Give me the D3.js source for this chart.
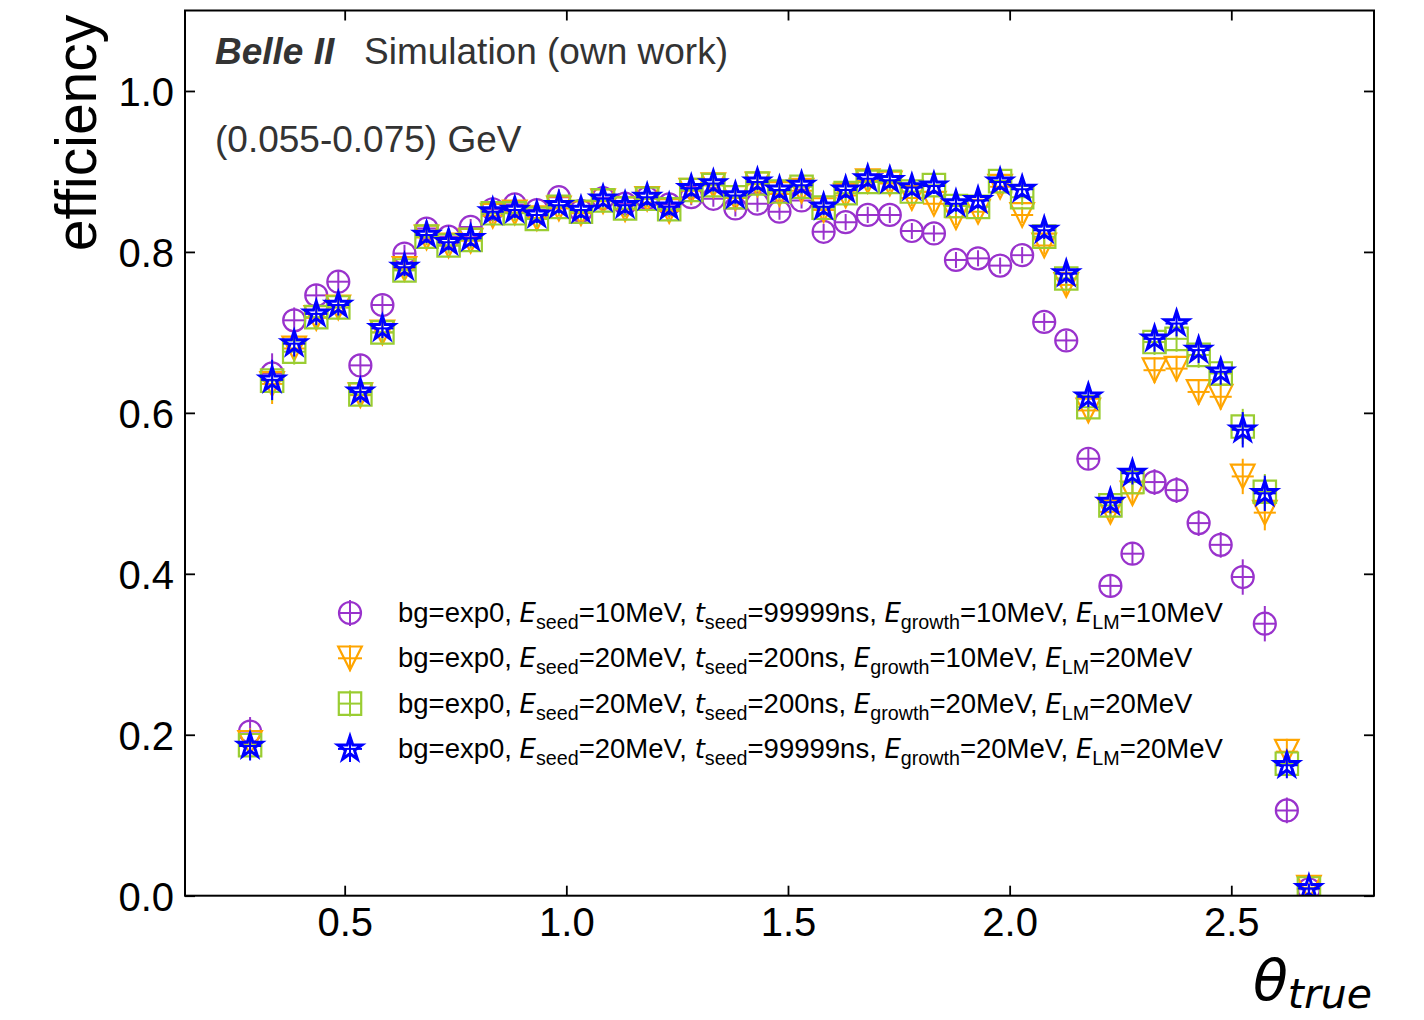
<!DOCTYPE html>
<html>
<head>
<meta charset="utf-8">
<script src="https://cdn.jsdelivr.net/npm/d3@7"></script>
<style>
  html, body { margin: 0; padding: 0; background: #fff; }
  svg { display: block; }
  text { font-family: "Liberation Sans", Arial, Helvetica, sans-serif; }
</style>
</head>
<body>
<svg id="chart" width="1424" height="1020"></svg>
<script>
// ---------------- data ----------------
const thetaBins = [0.2866, 0.3363, 0.3861, 0.4359, 0.4856, 0.5354, 0.5851, 0.6349, 0.6847, 0.7344,
  0.7842, 0.8340, 0.8837, 0.9335, 0.9832, 1.0330, 1.0828, 1.1325, 1.1823, 1.2320,
  1.2818, 1.3316, 1.3813, 1.4311, 1.4808, 1.5306, 1.5804, 1.6301, 1.6799, 1.7297,
  1.7794, 1.8292, 1.8789, 1.9287, 1.9785, 2.0282, 2.0780, 2.1277, 2.1775, 2.2273,
  2.2770, 2.3268, 2.3765, 2.4263, 2.4761, 2.5258, 2.5756, 2.6253, 2.6751];
const binHalfWidth = 0.0249;

const effSeed10 = [0.204, 0.649, 0.715, 0.746, 0.763, 0.659, 0.734, 0.798, 0.829, 0.819,
  0.831, 0.853, 0.859, 0.852, 0.868, 0.851, 0.867, 0.860, 0.867, 0.859,
  0.868, 0.866, 0.854, 0.860, 0.850, 0.864, 0.825, 0.837, 0.846, 0.846,
  0.826, 0.823, 0.790, 0.792, 0.783, 0.796, 0.713, 0.690, 0.543, 0.385,
  0.425, 0.514, 0.504, 0.463, 0.436, 0.396, 0.338, 0.106, 0.008];

const effSeed20t200g10 = [0.190, 0.636, 0.680, 0.718, 0.731, 0.622, 0.700, 0.779, 0.818, 0.808,
  0.814, 0.845, 0.849, 0.842, 0.854, 0.848, 0.863, 0.853, 0.866, 0.851,
  0.876, 0.883, 0.867, 0.884, 0.872, 0.876, 0.852, 0.870, 0.888, 0.885,
  0.867, 0.860, 0.843, 0.850, 0.881, 0.846, 0.808, 0.759, 0.603, 0.477,
  0.500, 0.653, 0.655, 0.626, 0.620, 0.521, 0.476, 0.179, 0.010];

const effSeed20t200g20 = [0.187, 0.640, 0.676, 0.719, 0.731, 0.623, 0.700, 0.777, 0.819, 0.808,
  0.815, 0.848, 0.848, 0.841, 0.856, 0.850, 0.864, 0.854, 0.866, 0.853,
  0.877, 0.883, 0.868, 0.885, 0.875, 0.881, 0.855, 0.873, 0.887, 0.887,
  0.875, 0.883, 0.857, 0.856, 0.888, 0.868, 0.819, 0.767, 0.607, 0.485,
  0.514, 0.688, 0.692, 0.672, 0.649, 0.583, 0.502, 0.164, 0.009];

const effSeed20t99999g20 = [0.186, 0.641, 0.686, 0.723, 0.734, 0.626, 0.705, 0.781, 0.821, 0.812,
  0.817, 0.850, 0.852, 0.846, 0.858, 0.852, 0.866, 0.858, 0.868, 0.856,
  0.879, 0.885, 0.870, 0.887, 0.877, 0.883, 0.856, 0.877, 0.891, 0.889,
  0.880, 0.882, 0.860, 0.864, 0.887, 0.878, 0.827, 0.773, 0.620, 0.489,
  0.525, 0.692, 0.711, 0.678, 0.651, 0.579, 0.500, 0.162, 0.009];

const effError = [0.018, 0.025, 0.016, 0.014, 0.013, 0.013, 0.012, 0.011, 0.010, 0.010,
  0.010, 0.010, 0.010, 0.010, 0.010, 0.010, 0.010, 0.010, 0.010, 0.010,
  0.010, 0.010, 0.010, 0.010, 0.010, 0.010, 0.010, 0.010, 0.010, 0.010,
  0.010, 0.010, 0.010, 0.010, 0.010, 0.010, 0.011, 0.012, 0.013, 0.014,
  0.014, 0.016, 0.016, 0.016, 0.016, 0.022, 0.022, 0.016, 0.006];

const xTicks = [0.5, 1.0, 1.5, 2.0, 2.5];
const yTicks = [0.0, 0.2, 0.4, 0.6, 0.8, 1.0];

const legendLabels = [
  ["bg=exp0, ", ["E", "seed"], "=10MeV, ", ["t", "seed"], "=99999ns, ", ["E", "growth"], "=10MeV, ", ["E", "LM"], "=10MeV"],
  ["bg=exp0, ", ["E", "seed"], "=20MeV, ", ["t", "seed"], "=200ns, ", ["E", "growth"], "=10MeV, ", ["E", "LM"], "=20MeV"],
  ["bg=exp0, ", ["E", "seed"], "=20MeV, ", ["t", "seed"], "=200ns, ", ["E", "growth"], "=20MeV, ", ["E", "LM"], "=20MeV"],
  ["bg=exp0, ", ["E", "seed"], "=20MeV, ", ["t", "seed"], "=99999ns, ", ["E", "growth"], "=20MeV, ", ["E", "LM"], "=20MeV"]
];

// ---------------- styles ----------------
const seriesStyle = [
  { values: effSeed10,          color: "#9932CC", marker: "circle",   sw: 2.2 },
  { values: effSeed20t200g10,   color: "#FFA500", marker: "triangle", sw: 2.2 },
  { values: effSeed20t200g20,   color: "#9ACD32", marker: "square",   sw: 2.2 },
  { values: effSeed20t99999g20, color: "#0000FF", marker: "star",     sw: 3.0 }
];

// ---------------- layout ----------------
const W = 1424, H = 1020;
const plot = { left: 185, right: 1374, top: 10.5, bottom: 895.7 };

const x = d3.scaleLinear().domain([0.1398, 2.8219]).range([plot.left, plot.right]);
const y = d3.scaleLinear().domain([0, 1.1]).range([plot.bottom, plot.top]);

const svg = d3.select("#chart");
svg.append("rect").attr("width", W).attr("height", H).attr("fill", "#fff");

function markerPath(type) {
  const p = d3.path();
  if (type === "circle") {
    const r = 11;
    p.moveTo(r, 0); p.arc(0, 0, r, 0, 2 * Math.PI); p.closePath();
  } else if (type === "square") {
    const h = 11.2;
    p.rect(-h, -h, 2 * h, 2 * h);
  } else if (type === "triangle") {
    const r = 11.8;
    p.moveTo(-r, -r); p.lineTo(r, -r); p.lineTo(0, r); p.closePath();
  } else if (type === "star") {
    const R = 12.5, ri = R * 0.381966;
    for (let k = 0; k < 10; k++) {
      const rr = k % 2 === 0 ? R : ri;
      const a = -Math.PI / 2 + k * Math.PI / 5;
      const px = rr * Math.cos(a), py = rr * Math.sin(a);
      if (k === 0) p.moveTo(px, py); else p.lineTo(px, py);
    }
    p.closePath();
  }
  return p.toString();
}

// clip for data
svg.append("clipPath").attr("id", "clip").append("rect")
  .attr("x", plot.left).attr("y", plot.top)
  .attr("width", plot.right - plot.left).attr("height", plot.bottom - plot.top);

const dataG = svg.append("g").attr("clip-path", "url(#clip)");

seriesStyle.forEach(s => {
  const g = dataG.append("g");
  const pts = thetaBins.map((t, i) => ({ t, v: s.values[i], e: effError[i] }));
  g.selectAll("line.ey").data(pts).join("line")
    .attr("x1", d => x(d.t)).attr("x2", d => x(d.t))
    .attr("y1", d => y(d.v - d.e)).attr("y2", d => y(d.v + d.e))
    .attr("stroke", s.color).attr("stroke-width", 2);
  g.selectAll("line.ex").data(pts).join("line")
    .attr("x1", d => x(d.t - binHalfWidth)).attr("x2", d => x(d.t + binHalfWidth))
    .attr("y1", d => y(d.v)).attr("y2", d => y(d.v))
    .attr("stroke", s.color).attr("stroke-width", 2);
  g.selectAll("path.m").data(pts).join("path")
    .attr("d", markerPath(s.marker))
    .attr("transform", d => `translate(${x(d.t)},${y(d.v)})`)
    .attr("fill", "none").attr("stroke", s.color)
    .attr("stroke-width", s.sw).attr("stroke-linejoin", "miter");
});

// ---------------- axes ----------------
const tickLen = 10;
const axG = svg.append("g");
const xAxisB = d3.axisBottom(x).tickValues(xTicks).tickSize(-tickLen).tickPadding(tickLen + 2)
  .tickFormat(d3.format(".1f"));
const gxb = axG.append("g").attr("transform", `translate(0,${plot.bottom})`).call(xAxisB);
const xAxisT = d3.axisTop(x).tickValues(xTicks).tickSize(-tickLen).tickFormat("");
const gxt = axG.append("g").attr("transform", `translate(0,${plot.top})`).call(xAxisT);
const yAxisL = d3.axisLeft(y).tickValues(yTicks).tickSize(-tickLen).tickPadding(tickLen + 1)
  .tickFormat(d3.format(".1f"));
const gyl = axG.append("g").attr("transform", `translate(${plot.left},0)`).call(yAxisL);
const yAxisR = d3.axisRight(y).tickValues(yTicks).tickSize(-tickLen).tickFormat("");
const gyr = axG.append("g").attr("transform", `translate(${plot.right},0)`).call(yAxisR);

[gxb, gxt, gyl, gyr].forEach(g => {
  g.select(".domain").remove();
  g.selectAll(".tick line").attr("stroke", "#000").attr("stroke-width", 1.8);
  g.selectAll(".tick text").attr("fill", "#000").style("font-size", "40px")
    .style("font-family", '"Liberation Sans", Arial, sans-serif');
});
gyl.selectAll(".tick text").attr("dy", "0.36em");
gxb.selectAll(".tick text").attr("dy", "0.71em");

svg.append("rect")
  .attr("x", plot.left).attr("y", plot.top)
  .attr("width", plot.right - plot.left).attr("height", plot.bottom - plot.top)
  .attr("fill", "none").attr("stroke", "#000").attr("stroke-width", 2);

// axis labels
svg.append("text")
  .attr("transform", `translate(96,133) rotate(-90)`)
  .attr("text-anchor", "middle")
  .style("font-size", "57px").attr("fill", "#000")
  .text("efficiency");

const xl = svg.append("text")
  .attr("x", 1372).attr("y", 1000)
  .attr("text-anchor", "end")
  .style("font-family", '"DejaVu Sans", sans-serif')
  .style("font-style", "italic").attr("fill", "#000");
xl.append("tspan").style("font-size", "57px").text("θ");
xl.append("tspan").style("font-size", "41px").attr("dy", 8).text("true");

// annotations
const t1 = svg.append("text").attr("x", 215).attr("y", 64)
  .style("font-size", "37px").attr("fill", "#333");
t1.append("tspan").style("font-weight", "bold").style("font-style", "italic").text("Belle II");
t1.append("tspan").attr("x", 364).text("Simulation (own work)");

svg.append("text").attr("x", 215).attr("y", 152)
  .style("font-size", "37px").attr("fill", "#333")
  .text("(0.055-0.075) GeV");

// ---------------- legend ----------------
const legX = 350, legTextX = 398, legY0 = 613, legDy = 45.3;
const legG = svg.append("g");
seriesStyle.forEach((s, i) => {
  const cy = legY0 + i * legDy;
  const g = legG.append("g").attr("transform", `translate(${legX},${cy})`);
  g.append("line").attr("x1", 0).attr("x2", 0).attr("y1", -13).attr("y2", 13)
    .attr("stroke", s.color).attr("stroke-width", 2);
  g.append("line").attr("x1", -12).attr("x2", 12).attr("y1", 0).attr("y2", 0)
    .attr("stroke", s.color).attr("stroke-width", 2);
  g.append("path").attr("d", markerPath(s.marker))
    .attr("fill", "none").attr("stroke", s.color).attr("stroke-width", s.sw);

  const tx = legG.append("text").attr("x", legTextX).attr("y", cy + 9)
    .style("font-size", "27.5px").attr("fill", "#000");
  let pendingUp = false;
  legendLabels[i].forEach(part => {
    if (typeof part === "string") {
      const ts = tx.append("tspan").text(part);
      if (pendingUp) { ts.attr("dy", -7); pendingUp = false; }
    } else {
      tx.append("tspan").style("font-style", "italic")
        .style("font-family", '"DejaVu Sans", sans-serif').style("font-size", "26px").text(part[0]);
      tx.append("tspan").attr("dy", 7).style("font-size", "19.7px").text(part[1]);
      pendingUp = true;
    }
  });
});
</script>
</body>
</html>
